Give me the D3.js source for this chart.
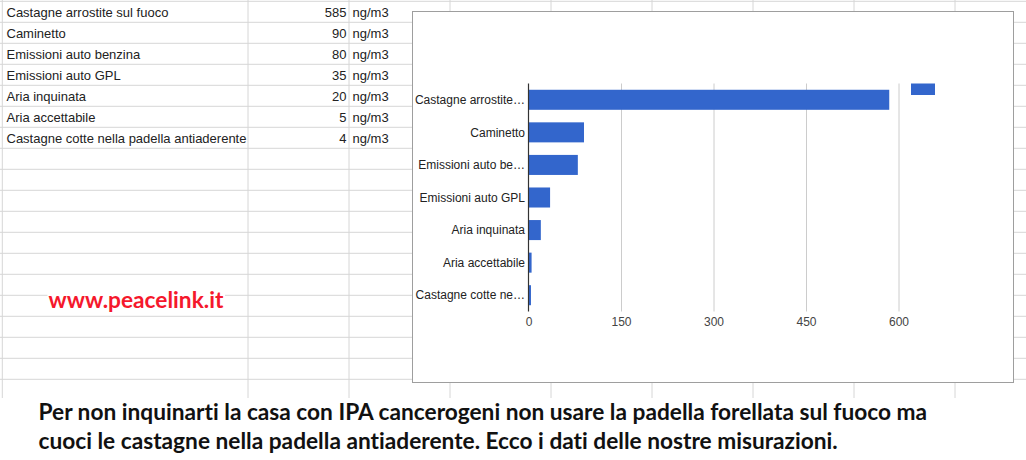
<!DOCTYPE html>
<html>
<head>
<meta charset="utf-8">
<script src="https://cdn.jsdelivr.net/npm/d3@7"></script>
<style>
    body { margin: 0; background: #fff; }
    svg { display: block; }
    text { font-variant-ligatures: none; }
</style>
</head>
<body>
<script>
// data
const categories = [
    "Castagne arrostite sul fuoco",
    "Caminetto",
    "Emissioni auto benzina",
    "Emissioni auto GPL",
    "Aria inquinata",
    "Aria accettabile",
    "Castagne cotte nella padella antiaderente"
];
const values = [585, 90, 80, 35, 20, 5, 4];
const unit = "ng/m3";
const xTicks = [0, 150, 300, 450, 600];
const watermark = "www.peacelink.it";
const captionLines = [
    "Per non inquinarti la casa con IPA cancerogeni non usare la padella forellata sul fuoco ma",
    "cuoci le castagne nella padella antiaderente. Ecco i dati delle nostre misurazioni."
];

const rows = categories.map(function(c, i) {
    return { name: c, value: values[i] };
});

const w = 1026;
const h = 460;

const svg = d3.select("body")
    .append("svg")
    .attr("width", w)
    .attr("height", h);

// ---- spreadsheet grid in the background ----
const gridBottom = 398;
const rowH = 21;
const rowLines = [1.3];
for (let y = 22.3; y < gridBottom; y += rowH) rowLines.push(y);
const colLines = [2.3, 248, 349];
for (let x = 450; x < w; x += 101) colLines.push(x);

const grid = svg.append("g").attr("class", "sheetGrid");
grid.selectAll(".hline")
    .data(rowLines)
    .enter()
    .append("line")
    .attr("x1", 0)
    .attr("x2", w)
    .attr("y1", function(d) { return d; })
    .attr("y2", function(d) { return d; })
    .style("stroke", "#d6d6d6");
grid.selectAll(".vline")
    .data(colLines)
    .enter()
    .append("line")
    .attr("x1", function(d) { return d; })
    .attr("x2", function(d) { return d; })
    .attr("y1", 0)
    .attr("y2", gridBottom)
    .style("stroke", "#d6d6d6");

// ---- table cells ----
const cellFont = "'Liberation Sans', Arial, sans-serif";
const table = svg.append("g").attr("class", "table")
    .style("font-family", cellFont)
    .style("font-size", "13px")
    .style("fill", "#222");

const rowY = function(i) { return rowLines[i] + 16; };

table.selectAll(".name")
    .data(rows)
    .enter()
    .append("text")
    .attr("x", 6.5)
    .attr("y", function(d, i) { return rowY(i); })
    .text(function(d) { return d.name; });

table.selectAll(".val")
    .data(rows)
    .enter()
    .append("text")
    .attr("x", 346.5)
    .attr("y", function(d, i) { return rowY(i); })
    .attr("text-anchor", "end")
    .text(function(d) { return d.value; });

table.selectAll(".unit")
    .data(rows)
    .enter()
    .append("text")
    .attr("x", 352.5)
    .attr("y", function(d, i) { return rowY(i); })
    .text(unit);

// ---- chart box ----
svg.append("rect")
    .attr("x", 412.5)
    .attr("y", 11.5)
    .attr("width", 601)
    .attr("height", 371)
    .style("fill", "#fff")
    .style("stroke", "#9e9e9e");

const plot = { left: 528.5, right: 898.5, top: 83.5, bottom: 311.5 };

const x = d3.scaleLinear()
    .domain([0, 600])
    .range([plot.left, plot.right]);

const y = d3.scaleBand()
    .domain(categories)
    .range([plot.top, plot.bottom])
    .paddingInner(0.385)
    .paddingOuter(0.1925);

const chart = svg.append("g").attr("class", "chart")
    .style("font-family", cellFont);

// vertical gridlines
const gridAxis = chart.append("g")
    .attr("transform", "translate(0," + plot.bottom + ")")
    .call(d3.axisBottom(x)
        .tickValues(xTicks.slice(1))
        .tickSize(-(plot.bottom - plot.top))
        .tickFormat(""));
gridAxis.select(".domain").remove();
gridAxis.selectAll("line").style("stroke", "#cccccc");

// tick labels
const tickAxis = chart.append("g")
    .attr("transform", "translate(0," + plot.bottom + ")")
    .call(d3.axisBottom(x)
        .tickValues(xTicks)
        .tickSize(0)
        .tickPadding(6));
tickAxis.select(".domain").remove();
tickAxis.selectAll("text")
    .attr("dy", "0.71em")
    .style("font-family", cellFont)
    .style("font-size", "12px")
    .style("fill", "#444");

// bars
chart.selectAll(".bar")
    .data(rows)
    .enter()
    .append("rect")
    .attr("class", "bar")
    .attr("x", x(0))
    .attr("y", function(d) { return y(d.name); })
    .attr("width", function(d) { return x(d.value) - x(0); })
    .attr("height", y.bandwidth())
    .style("fill", "#3366cc");

// baseline
chart.append("line")
    .attr("x1", x(0))
    .attr("x2", x(0))
    .attr("y1", plot.top)
    .attr("y2", plot.bottom)
    .style("stroke", "#333")
    .style("stroke-width", 1.2);

// category labels, shortened with an ellipsis like the sheet does
const labelMax = 111;
const labels = chart.selectAll(".cat")
    .data(rows)
    .enter()
    .append("text")
    .attr("class", "cat")
    .attr("x", x(0) - 3.5)
    .attr("y", function(d) { return y(d.name) + y.bandwidth() / 2; })
    .attr("dy", "0.35em")
    .attr("text-anchor", "end")
    .style("font-size", "12px")
    .style("fill", "#222")
    .text(function(d) { return d.name; });

labels.each(function(d) {
    const t = d3.select(this);
    if (this.getComputedTextLength() <= labelMax) return;
    let s = d.name;
    while (s.length > 1) {
        s = s.slice(0, -1);
        t.text(s.replace(/\s+$/, "") + "\u2026");
        if (this.getComputedTextLength() <= labelMax) break;
    }
});

// legend swatch (series has no name)
chart.append("rect")
    .attr("x", plot.right + 12.5)
    .attr("y", plot.top)
    .attr("width", 24)
    .attr("height", 11.5)
    .style("fill", "#3366cc");

// ---- watermark ----
const boldFont = "Lato, 'Open Sans', sans-serif";
function fitText(sel, target) {
    const len = sel.node().getComputedTextLength();
    const size = parseFloat(sel.style("font-size"));
    sel.style("font-size", (size * target / len) + "px");
}

const wmBox = svg.append("rect").style("fill", "#fff");
const wm = svg.append("text")
    .attr("x", 48.5)
    .attr("y", 308)
    .style("font-family", boldFont)
    .style("font-weight", "bold")
    .style("font-size", "20px")
    .style("fill", "#f5182c")
    .text(watermark);
fitText(wm, 175);
const bb = wm.node().getBBox();
wmBox.attr("x", bb.x - 1).attr("y", bb.y + 2)
    .attr("width", bb.width + 2).attr("height", bb.height - 3);

// ---- caption under the sheet ----
const caption = svg.selectAll(".caption")
    .data(captionLines)
    .enter()
    .append("text")
    .attr("class", "caption")
    .attr("x", 38.5)
    .attr("y", function(d, i) { return 419.5 + i * 29; })
    .style("font-family", boldFont)
    .style("font-weight", "bold")
    .style("font-size", "20px")
    .style("fill", "#111")
    .text(function(d) { return d; });

// size both lines from the width of the first one
const first = d3.select(caption.nodes()[0]);
fitText(first, 889);
caption.style("font-size", first.style("font-size"));
</script>
</body>
</html>
